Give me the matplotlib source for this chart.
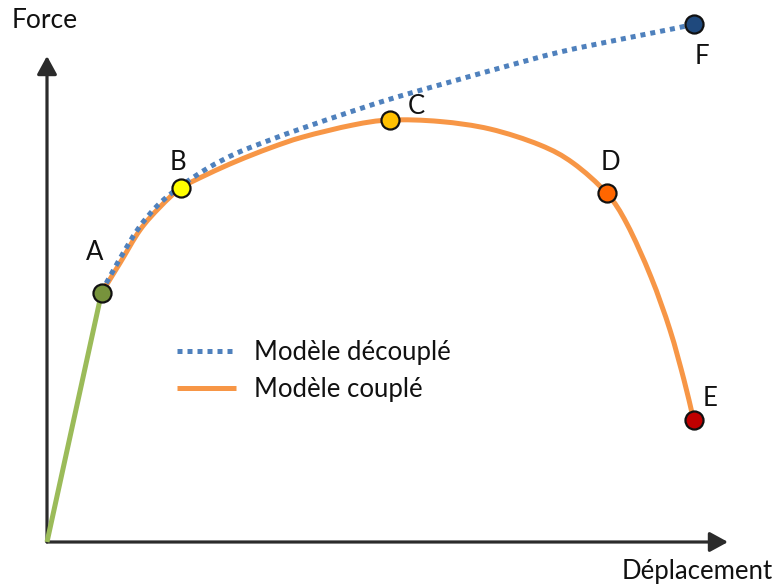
import matplotlib
matplotlib.use('Agg')
import matplotlib.pyplot as plt
from matplotlib.path import Path
from matplotlib.patches import PathPatch
from matplotlib.lines import Line2D

plt.rcParams['font.family'] = ['Lato', 'DejaVu Sans']

# ---- data (displacement, force), arbitrary units ----
elastic_x = [0, 54.5]
elastic_y = [0, 249]

coupled_x = [54.5, 73, 93, 113, 134, 161, 190, 223, 256, 306, 343, 393, 443, 493, 526,
             559.5, 580, 604, 623, 637, 645, 647]
coupled_y = [249, 279, 312, 335, 354, 368, 381, 394, 405, 417, 422, 420.5, 413, 397, 379,
             349, 318, 265, 212, 162, 129, 122]

decoupled_x = [54.5, 71, 91, 111, 134, 161, 190, 223, 256, 306, 350, 403, 453, 513, 580, 630, 647]
decoupled_y = [250, 280, 313, 337, 356, 374, 389, 402, 414, 431, 445, 460, 474, 490, 504, 514, 518]

point_names = ['A', 'B', 'C', 'D', 'E', 'F']
point_x = [54.5, 134, 343, 559.5, 647, 647]
point_y = [249, 354, 422, 349, 122, 518]
point_colors = ['#77933C', '#FFFF00', '#FFC000', '#FF6600', '#C00000', '#1F497D']
label_dx = [-6.5, -3, 26, 4, 16, 8]
label_dy = [40, 25, 14, 31, 22, -33]

legend_labels = ['Modèle découplé', 'Modèle couplé']
x_label = 'Déplacement'
y_label = 'Force'


def smooth_path(xs, ys):
    """Smooth curve through the given points (Catmull-Rom drawn as cubic Bezier segments)."""
    pts = list(zip(xs, ys))
    n = len(pts)
    verts = [pts[0]]
    codes = [Path.MOVETO]
    for i in range(n - 1):
        p0 = pts[i - 1] if i > 0 else pts[i]
        p1 = pts[i]
        p2 = pts[i + 1]
        p3 = pts[i + 2] if i + 2 < n else pts[i + 1]
        c1 = (p1[0] + (p2[0] - p0[0]) / 6, p1[1] + (p2[1] - p0[1]) / 6)
        c2 = (p2[0] - (p3[0] - p1[0]) / 6, p2[1] - (p3[1] - p1[1]) / 6)
        verts += [c1, c2, p2]
        codes += [Path.CURVE4] * 3
    return Path(verts, codes)


# ---- figure ----
fig = plt.figure(figsize=(7.77, 5.88), dpi=100)
ax = fig.add_axes([0, 0, 1, 1])
ax.set_xlim(-47, 730)
ax.set_ylim(-46, 542)
ax.axis('off')

axis_color = '#2b2b2b'
arrow_kw = dict(arrowstyle='-|>,head_length=0.55,head_width=0.3', lw=2.3,
                color=axis_color, mutation_scale=20, shrinkA=0, shrinkB=0)
ax.annotate('', xy=(0, 486), xytext=(0, 0), arrowprops=arrow_kw, zorder=1)
ax.annotate('', xy=(681, 0), xytext=(0, 0), arrowprops=arrow_kw, zorder=1)

lw = 3.6
orange = '#F79646'
blue = '#4F81BD'
ax.plot(elastic_x, elastic_y, color='#9BBB59', lw=lw, solid_capstyle='butt', zorder=2)

pc = PathPatch(smooth_path(coupled_x, coupled_y), fill=False, edgecolor=orange, lw=lw,
               capstyle='butt', joinstyle='round', zorder=3)
ax.add_patch(pc)
pd = PathPatch(smooth_path(decoupled_x, decoupled_y), fill=False, edgecolor=blue, lw=lw,
               linestyle=(0, (1, 1)), capstyle='butt', zorder=4)
ax.add_patch(pd)

for name, x, y, c, dx, dy in zip(point_names, point_x, point_y, point_colors, label_dx, label_dy):
    ax.plot([x], [y], marker='o', ms=13, mfc=c, mec='#111111', mew=1.6, zorder=5)
    ax.text(x + dx, y + dy, name, fontsize=18.5, ha='center', va='center', color='#111111')

ax.text(-2, 522, y_label, fontsize=19, ha='center', va='center', color='#111111')
ax.text(726, -30, x_label, fontsize=18.5, ha='right', va='center', color='#111111')

h_d = Line2D([], [], color=blue, lw=lw, linestyle=(0, (1, 1)), dash_capstyle='butt')
h_c = Line2D([], [], color=orange, lw=lw, solid_capstyle='butt')
ax.legend(handles=[h_d, h_c], labels=legend_labels, loc='upper left',
          bbox_to_anchor=(177 / 777, 1 - 340 / 588),
          bbox_transform=fig.transFigure, frameon=False, fontsize=18.5,
          handlelength=2.3, handletextpad=0.7, labelspacing=0.45,
          borderpad=0, borderaxespad=0, labelcolor='#111111')

fig.savefig('out.png', dpi=100)
